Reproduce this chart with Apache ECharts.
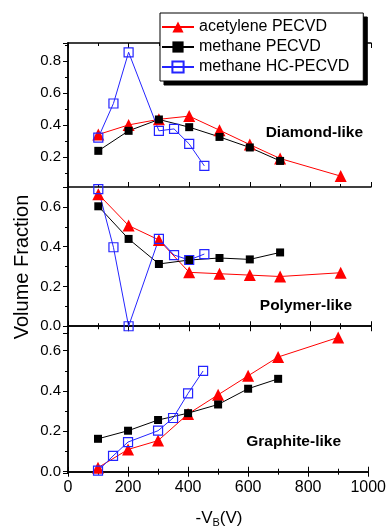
<!DOCTYPE html>
<html>
<head>
<meta charset="utf-8">
<script src="https://cdn.jsdelivr.net/npm/echarts@6/dist/echarts.min.js"></script>
<style>html,body{margin:0;padding:0;background:#fff;}#c{width:389px;height:527px;}</style>
</head>
<body>
<div id="c"></div>
<script>
// ---- data ----
const seriesNames = ['acetylene PECVD', 'methane PECVD', 'methane HC-PECVD'];
const xTicks = [0, 200, 400, 600, 800, 1000];
const acetyleneX = [100, 200, 300, 400, 500, 600, 700, 900];
const methaneX = [100, 200, 300, 400, 500, 600, 700];
const hcX = [100, 150, 200, 300, 350, 400, 450];

const acetyleneDiamond = [0.34, 0.40, 0.435, 0.455, 0.367, 0.277, 0.19, 0.08];
const methaneDiamond = [0.238, 0.363, 0.434, 0.386, 0.325, 0.259, 0.175];
const hcDiamond = [0.321, 0.534, 0.854, 0.363, 0.375, 0.281, 0.144];

const acetylenePolymer = [0.664, 0.506, 0.434, 0.271, 0.264, 0.257, 0.25, 0.269];
const methanePolymer = [0.603, 0.439, 0.313, 0.333, 0.343, 0.336, 0.371];
const hcPolymer = [0.689, 0.397, 0.0, 0.439, 0.358, 0.333, 0.363];

const acetyleneGraphite = [0.02, 0.11, 0.154, 0.286, 0.381, 0.475, 0.568, 0.665];
const methaneGraphite = [0.163, 0.203, 0.256, 0.29, 0.333, 0.411, 0.46];
const hcGraphite = [0.005, 0.078, 0.147, 0.203, 0.266, 0.388, 0.499];

const panelLabels = ['Diamond-like', 'Polymer-like', 'Graphite-like'];
const yRanges = [[0.012, 0.912], [-0.034, 0.70], [-0.0064, 0.687]];

// ---- layout ----
const FONT = '"Liberation Sans", Arial, sans-serif';
const grids = [
  {left: 68, width: 303, top: 43, height: 144},
  {left: 68, width: 303, top: 187, height: 146},
  {left: 68, width: 303, top: 333, height: 140}
];
const lineCol = '#000';
const xAxes = [], yAxes = [];
grids.forEach((g, i) => {
  const common = {type: 'value', gridIndex: i, min: 0, max: 1000, interval: 200,
    axisLine: {show: true, lineStyle: {color: lineCol, width: 1.5}},
    axisTick: {show: true, inside: true, length: 5, lineStyle: {color: lineCol, width: 1}},
    minorTick: {show: true, splitNumber: 2, length: 3, lineStyle: {color: lineCol, width: 1}},
    splitLine: {show: false}};
  xAxes.push(Object.assign({}, common, {position: 'bottom',
    axisLabel: {show: i === 2, color: '#000', fontSize: 16, fontFamily: FONT, margin: 7,
      formatter: v => xTicks.indexOf(v) >= 0 ? String(v) : ''}}));
  xAxes.push(Object.assign({}, common, {position: 'top', axisLabel: {show: false}}));
  const yc = {type: 'value', gridIndex: i, min: yRanges[i][0], max: yRanges[i][1],
    splitNumber: 4, minInterval: 0.2, maxInterval: 0.2,
    axisLine: {show: true, lineStyle: {color: lineCol, width: 1.5}},
    minorTick: {show: true, splitNumber: 2, length: 3, lineStyle: {color: lineCol, width: 1}},
    splitLine: {show: false}};
  yAxes.push(Object.assign({}, yc, {position: 'left',
    axisTick: {show: true, inside: false, length: 5, lineStyle: {color: lineCol, width: 1}},
    axisLabel: {show: true, color: '#000', fontSize: 15, fontFamily: FONT, margin: 7,
      showMinLabel: false, showMaxLabel: false, formatter: v => v.toFixed(1)}}));
  yAxes.push(Object.assign({}, yc, {position: 'right',
    axisTick: {show: true, inside: true, length: 5, lineStyle: {color: lineCol, width: 1}},
    axisLabel: {show: false}}));
});

const panelData = [
  [acetyleneDiamond, methaneDiamond, hcDiamond],
  [acetylenePolymer, methanePolymer, hcPolymer],
  [acetyleneGraphite, methaneGraphite, hcGraphite]
];
const xs = [acetyleneX, methaneX, hcX];
const styles = [
  {symbol: 'triangle', symbolSize: 12, lineStyle: {color: '#ff0000', width: 1}, itemStyle: {color: '#ff0000'}},
  {symbol: 'rect', symbolSize: 8, lineStyle: {color: '#000000', width: 1}, itemStyle: {color: '#000000'}},
  {symbol: 'rect', symbolSize: 9, lineStyle: {color: '#2424ff', width: 1},
    itemStyle: {color: 'rgba(255,255,255,0)', borderColor: '#2424ff', borderWidth: 1.2}}
];
const series = [];
panelData.forEach((arrs, p) => {
  arrs.forEach((vals, s) => {
    series.push(Object.assign({
      type: 'line', name: seriesNames[s], xAxisIndex: 2 * p, yAxisIndex: 2 * p,
      data: xs[s].map((x, k) => [x, vals[k]]), clip: false, animation: false,
      emphasis: {disabled: true}
    }, styles[s]));
  });
});

const legendBase = {
  data: seriesNames, orient: 'vertical',
  itemWidth: 32, itemHeight: 14, itemGap: 4,
  padding: [6, 14, 6, 1], borderWidth: 1,
  textStyle: {color: '#000', fontSize: 16, fontFamily: FONT},
  selectedMode: false
};

const chart = echarts.init(document.getElementById('c'), null, {renderer: 'canvas'});
chart.setOption({
  animation: false,
  grid: grids,
  xAxis: xAxes,
  yAxis: yAxes,
  legend: [
    // shadow box (offset copy, black)
    Object.assign({}, legendBase, {left: 164, top: 17, z: 9,
      backgroundColor: '#000', borderColor: '#000'}),
    Object.assign({}, legendBase, {left: 160, top: 13, z: 10,
      backgroundColor: '#fff', borderColor: '#000'})
  ],
  graphic: {
    elements: [
      {type: 'text', right: 389 - 363, top: 125, style: {text: panelLabels[0], fontSize: 15.5, fontWeight: 'bold', fontFamily: FONT, fill: '#000'}},
      {type: 'text', right: 389 - 352, top: 298, style: {text: panelLabels[1], fontSize: 15.5, fontWeight: 'bold', fontFamily: FONT, fill: '#000'}},
      {type: 'text', right: 389 - 341, top: 434, style: {text: panelLabels[2], fontSize: 15.5, fontWeight: 'bold', fontFamily: FONT, fill: '#000'}},
      {type: 'text', x: 22, y: 267, rotation: Math.PI / 2,
        style: {text: 'Volume Fraction', fontSize: 20, fontFamily: FONT, fill: '#000', align: 'center', verticalAlign: 'middle'}},
      {type: 'text', x: 219, y: 518,
        style: {text: '{a|-V}{b|B}{a|(V)}', align: 'center', verticalAlign: 'middle', fill: '#000',
          rich: {a: {fontSize: 17, fontFamily: FONT, lineHeight: 20, fill: '#000'},
                 b: {fontSize: 11, fontFamily: FONT, lineHeight: 8, verticalAlign: 'bottom', fill: '#000'}}}}
    ]
  },
  series: series
});
</script>
</body>
</html>
